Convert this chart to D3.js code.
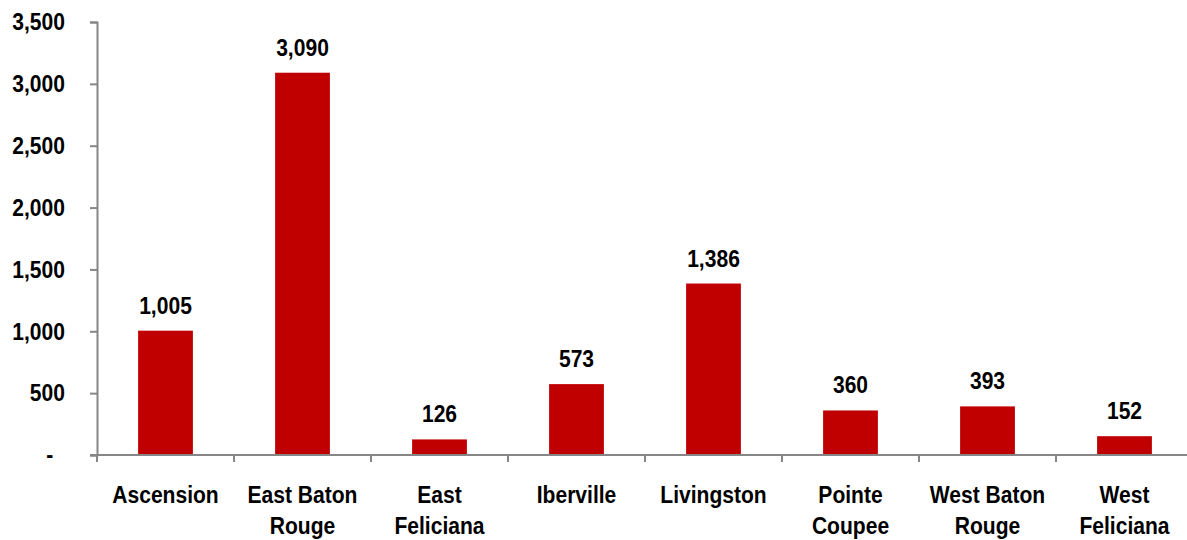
<!DOCTYPE html>
<html><head><meta charset="utf-8">
<script src="https://cdn.jsdelivr.net/npm/d3@7"></script>
<style>
body{margin:0;background:#fff;}
text{font-family:"Liberation Sans Narrow","Liberation Sans",Arial,sans-serif;font-weight:bold;fill:#000;}
</style></head><body>
<svg id="c" width="1187" height="540"></svg>
<script>
const categories = [["Ascension"],["East Baton","Rouge"],["East","Feliciana"],["Iberville"],["Livingston"],["Pointe","Coupee"],["West Baton","Rouge"],["West","Feliciana"]];
const values = [1005, 3090, 126, 573, 1386, 360, 393, 152];
const yTicks = [0, 500, 1000, 1500, 2000, 2500, 3000, 3500];

const FS = "24.5px", SX = 0.86;
const svg = d3.select("#c");
const x0 = 97, x1 = 1193, yBase = 455, yTop = 22;
const keys = categories.map((c,i)=>i);
const x = d3.scaleBand().domain(keys).range([x0, x1]).padding(0);
const y = d3.scaleLinear().domain([0, 3500]).range([yBase, yTop]);
const fmt = d3.format(",");
const barW = x.bandwidth()*0.4;

// bars
svg.selectAll("rect.bar").data(values).join("rect")
  .attr("x", (d,i)=>x(i)+(x.bandwidth()-barW)/2)
  .attr("y", d=>y(d))
  .attr("width", barW)
  .attr("height", d=>yBase-y(d))
  .attr("fill", "#C00000");

// y axis
const yAxis = d3.axisLeft(y).tickValues(yTicks).tickSize(7).tickPadding(25)
  .tickFormat(d=> d===0 ? "-\u00a0\u00a0" : fmt(d));
const gy = svg.append("g").attr("transform", `translate(${x0},0)`).call(yAxis);
gy.select(".domain").attr("stroke","#868686").attr("stroke-width",2);
gy.selectAll(".tick line").attr("stroke","#868686").attr("stroke-width",2);
gy.selectAll(".tick text").style("font-size",FS).attr("fill","#000")
  .attr("x",0).attr("transform",`translate(-32,0) scale(${SX},1)`);

// x axis line
svg.append("line").attr("x1", x0-7).attr("x2", x1).attr("y1", yBase).attr("y2", yBase)
  .attr("stroke","#868686").attr("stroke-width",2);
// category ticks at band boundaries
const bounds = keys.map(i=>x(i)).concat([x1]);
svg.selectAll("line.ct").data(bounds).join("line")
  .attr("x1", d=>d).attr("x2", d=>d).attr("y1", yBase).attr("y2", yBase+7)
  .attr("stroke","#868686").attr("stroke-width",2);

// category labels
const cl = svg.selectAll("text.cat").data(categories).join("text")
  .attr("text-anchor","middle").style("font-size",FS)
  .attr("transform",(d,i)=>`translate(${x(i)+x.bandwidth()/2},503) scale(${SX},1)`);
cl.selectAll("tspan").data(d=>d).join("tspan")
  .attr("x",0).attr("y",(d,j)=>j*31).text(d=>d);

// value labels
svg.selectAll("text.val").data(values).join("text")
  .attr("text-anchor","middle").style("font-size",FS)
  .attr("transform",(d,i)=>`translate(${x(i)+x.bandwidth()/2},${y(d)-17}) scale(${SX},1)`)
  .text(d=>fmt(d));
</script></body></html>
